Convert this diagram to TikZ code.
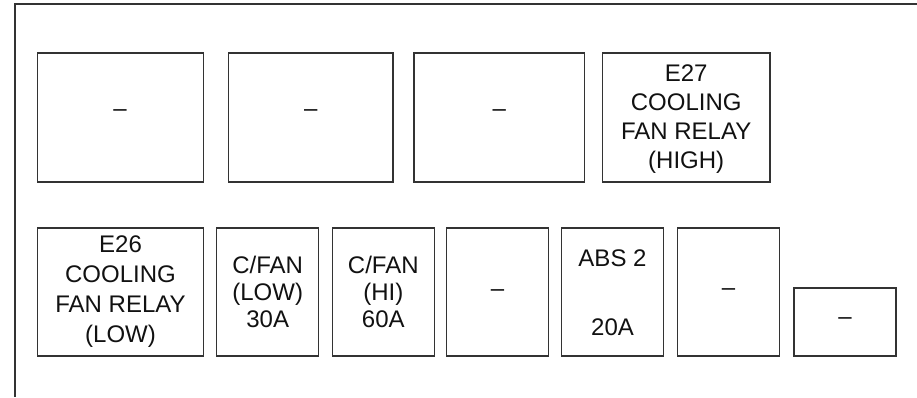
\documentclass[tikz,border=0pt]{standalone}
\usepackage{fontspec}
\setmainfont{Liberation Sans}
\definecolor{ln}{HTML}{333333}
\definecolor{tx}{HTML}{111111}
\begin{document}
\begin{tikzpicture}[x=1pt,y=-1pt,
  fbox/.style={draw=ln,line width=1.3pt,rectangle,inner sep=0pt,fill=none},
  lbl/.style={text=tx,font=\fontsize{24}{29}\selectfont,align=center,inner sep=0pt},
  dsh/.style={text=tx,font=\fontsize{24}{29}\selectfont,inner sep=0pt}]
\useasboundingbox (0,0) rectangle (917,397);
\coordinate (ftop) at (917,4);
\coordinate (fcorner) at (15,4);
\coordinate (fbot) at (15,397);
\draw[ln,line width=1.3pt] (ftop) -- (fcorner) -- (fbot);
% top row
\node[fbox,minimum width=165.5pt,minimum height=129pt] (b1) at (120.5,117.5) {};
\node[fbox,minimum width=164.7pt,minimum height=129pt] (b2) at (310.7,117.5) {};
\node[fbox,minimum width=170.3pt,minimum height=129pt] (b3) at (499.2,117.5) {};
\node[fbox,minimum width=167.5pt,minimum height=129pt] (b4) at (686.2,117.5) {};
\node[dsh] (d1) at (120,113) {–};
\node[dsh] (d2) at (310.7,113) {–};
\node[dsh] (d3) at (499.2,113) {–};
\node[lbl] (t4) at (686.2,119) {E27\\COOLING\\FAN RELAY\\(HIGH)};
% bottom row
\node[fbox,minimum width=165.6pt,minimum height=128pt] (b5) at (120.5,292) {};
\node[fbox,minimum width=102pt,minimum height=128pt] (b6) at (267.7,292) {};
\node[fbox,minimum width=102pt,minimum height=128pt] (b7) at (383.3,292) {};
\node[fbox,minimum width=101.6pt,minimum height=128pt] (b8) at (497.5,292) {};
\node[fbox,minimum width=101.6pt,minimum height=128pt] (b9) at (612.5,292) {};
\node[fbox,minimum width=101.6pt,minimum height=128pt] (b10) at (728.5,292) {};
\node[fbox,minimum width=102pt,minimum height=68pt] (b11) at (845,322) {};
\node[lbl,font=\fontsize{24}{30}\selectfont] (t5) at (120.5,291.5) {E26\\COOLING\\FAN RELAY\\(LOW)};
\node[lbl,font=\fontsize{24}{26.7}\selectfont] (t6) at (267.7,292) {C/FAN\\(LOW)\\30A};
\node[lbl,font=\fontsize{24}{26.7}\selectfont] (t7) at (383.3,292) {C/FAN\\(HI)\\60A};
\node[dsh] (d8) at (497.5,293) {–};
\node[lbl] (t9a) at (612.5,258) {ABS 2};
\node[lbl] (t9b) at (612.5,327) {20A};
\node[dsh] (d10) at (728.5,292.5) {–};
\node[dsh] (d11) at (845,321.5) {–};
\end{tikzpicture}
\end{document}
